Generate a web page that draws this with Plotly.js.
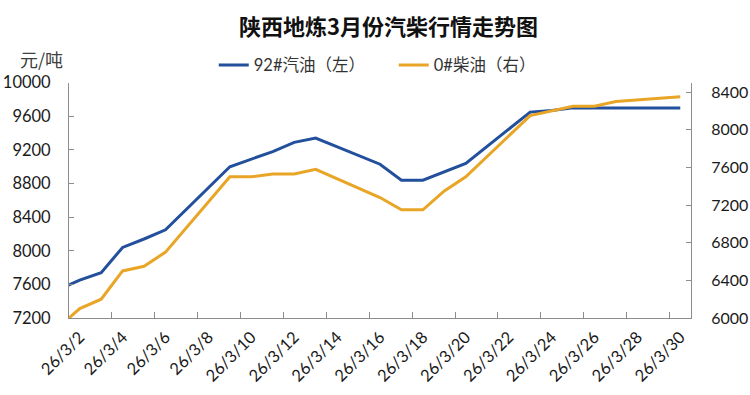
<!DOCTYPE html>
<html>
<head>
<meta charset="utf-8">
<script src="https://cdn.plot.ly/plotly-3.0.1.min.js"></script>
<style>html,body{margin:0;padding:0;background:#fff;}#chart{width:750px;height:395px;}</style>
</head>
<body>
<div id="chart"></div>
<script>
// Trading dates (the first point lies before the visible range and is clipped)
const dates = ['2026-02-27','2026-03-02','2026-03-03','2026-03-04','2026-03-05','2026-03-06',
  '2026-03-09','2026-03-10','2026-03-11','2026-03-12','2026-03-13',
  '2026-03-16','2026-03-17','2026-03-18','2026-03-19','2026-03-20',
  '2026-03-23','2026-03-24','2026-03-25','2026-03-26','2026-03-27','2026-03-30'];
// 92# gasoline, left axis (元/吨)
const gasoline92 = [7310,7650,7740,8040,8140,8250,9000,9090,9180,9290,9340,9030,8840,8840,8940,9040,9650,9670,9700,9700,9700,9700];
// 0# diesel, right axis (元/吨)
const diesel0 = [5500,6100,6200,6500,6550,6700,7500,7500,7530,7530,7580,7280,7150,7150,7350,7500,8150,8200,8250,8250,8300,8350];

const tickDates = ['2026-03-02','2026-03-04','2026-03-06','2026-03-08','2026-03-10','2026-03-12','2026-03-14',
  '2026-03-16','2026-03-18','2026-03-20','2026-03-22','2026-03-24','2026-03-26','2026-03-28','2026-03-30'];
const tickLabels = ['26/3/2','26/3/4','26/3/6','26/3/8','26/3/10','26/3/12','26/3/14',
  '26/3/16','26/3/18','26/3/20','26/3/22','26/3/24','26/3/26','26/3/28','26/3/30'];

const seriesNames = ['92#汽油（左）','0#柴油（右）'];
const colors = ['#22509c','#e8a526'];

// each day is a slot; tick marks sit at slot boundaries (half a day before the date)
function shiftHalfDay(d){ const t = new Date(d+'T00:00:00Z'); t.setUTCHours(t.getUTCHours()-12);
  return t.toISOString().slice(0,16).replace('T',' '); }
const tickMarks = tickDates.map(shiftHalfDay);
const xRange = ['2026-03-01 12:00','2026-03-30 12:00'];

const fontTick = {family:'Lato, "Noto Sans CJK SC", sans-serif', size:16.5, color:'#1a1a1a'};
const axisGray = '#8c8c8c';

const traces = [
  {x:dates, y:gasoline92, name:seriesNames[0], type:'scatter', mode:'lines',
   line:{color:colors[0], width:3}, xaxis:'x', yaxis:'y'},
  {x:dates, y:diesel0, name:seriesNames[1], type:'scatter', mode:'lines',
   line:{color:colors[1], width:3}, xaxis:'x2', yaxis:'y2'}
];

const layout = {
  width:750, height:395,
  margin:{l:69, r:59, t:78, b:77},
  paper_bgcolor:'#fff', plot_bgcolor:'#fff',
  showlegend:true,
  title:{text:'陕西地炼3月份汽柴行情走势图', x:0.518, xanchor:'center', y:0.93, yanchor:'middle',
    font:{family:'"Noto Sans CJK SC", sans-serif', size:22, color:'#111111', weight:'bold'}},
  legend:{orientation:'h', x:0.525, xanchor:'center', xref:'container', y:0.835, yref:'container', yanchor:'middle',
    font:{family:'Lato, "Noto Sans CJK SC", sans-serif', size:16.5, color:'#333333'}, itemwidth:30,
    entrywidth:135, entrywidthmode:'pixels', tracegroupgap:0},
  xaxis:{type:'date', range:xRange, tickmode:'array', tickvals:tickDates, ticktext:tickLabels,
    tickangle:-45, ticks:'', showgrid:false, zeroline:false, showline:true, linecolor:axisGray, linewidth:1,
    tickfont:fontTick, ticklabelstandoff:2, fixedrange:true},
  xaxis2:{type:'date', range:xRange, overlaying:'x', anchor:'y', side:'bottom', tickmode:'array', tickvals:tickMarks,
    ticks:'inside', ticklen:6, tickcolor:axisGray, tickwidth:1, showticklabels:false, showgrid:false,
    zeroline:false, showline:false, fixedrange:true},
  yaxis:{range:[7200,10000], tick0:7200, dtick:400, tickformat:'d', ticks:'inside', ticklen:5, tickcolor:axisGray,
    showgrid:false, zeroline:false, showline:true, linecolor:axisGray, linewidth:1,
    tickfont:fontTick, ticklabelstandoff:14, fixedrange:true},
  yaxis2:{range:[6000,8500], tick0:6000, dtick:400, tickformat:'d', overlaying:'y', side:'right', anchor:'x2',
    ticks:'inside', ticklen:5, tickcolor:axisGray, showgrid:false, zeroline:false, showline:true,
    linecolor:axisGray, linewidth:1, tickfont:{family:fontTick.family, size:16, color:fontTick.color},
    ticklabelstandoff:16, fixedrange:true},
  annotations:[{text:'元/吨', xref:'paper', yref:'paper', x:-0.045, y:1.1, xanchor:'center', yanchor:'middle',
    showarrow:false, font:{family:'"Noto Sans CJK SC", sans-serif', size:18, color:'#404040'}}]
};

Plotly.newPlot('chart', traces, layout, {staticPlot:true, displayModeBar:false});
</script>
</body>
</html>
